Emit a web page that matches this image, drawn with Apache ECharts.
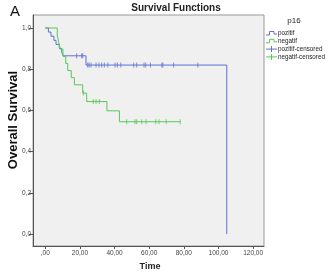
<!DOCTYPE html>
<html>
<head>
<meta charset="utf-8">
<script src="https://cdn.jsdelivr.net/npm/echarts@6/dist/echarts.min.js"></script>
<style>
html, body { margin: 0; padding: 0; background: #ffffff; }
#chart { width: 329px; height: 280px; }
</style>
</head>
<body>
<div id="chart"></div>
<script>
// survival steps: [time, survival after that time]
const pozitifSteps = [[0, 1], [1.8, 0.98], [3.3, 0.96], [5, 0.94], [6.2, 0.92], [8.1, 0.9], [9.5, 0.88], [10.4, 0.865], [23.5, 0.82], [104.8, 0]];
const negatifSteps = [[0, 1], [6.9, 0.966], [7.7, 0.931], [8.7, 0.897], [10.2, 0.862], [11.8, 0.828], [13, 0.793], [15, 0.759], [16.8, 0.724], [21.6, 0.684], [23.9, 0.643], [35.6, 0.598], [42.8, 0.545], [78, 0.545]];

// censored cases
const pozitifCensored = [[18.1, 0.865], [21, 0.865], [21.6, 0.865], [24.5, 0.82], [25.3, 0.82], [26.4, 0.82], [29.3, 0.82], [31, 0.82], [32.6, 0.82], [34.1, 0.82], [36.1, 0.82], [40.3, 0.82], [41.6, 0.82], [43.6, 0.82], [51.1, 0.82], [52.8, 0.82], [57, 0.82], [58, 0.82], [60.7, 0.82], [67.3, 0.82], [67.9, 0.82], [74.1, 0.82], [88.1, 0.82]];
const negatifCensored = [[22, 0.684], [27.7, 0.643], [29.3, 0.643], [31.2, 0.643], [47, 0.545], [51.8, 0.545], [52.8, 0.545], [55.7, 0.545], [58.2, 0.545], [63.8, 0.545], [65.7, 0.545], [69.8, 0.545], [77.9, 0.545]];

const xTicks = [0, 20, 40, 60, 80, 100, 120];
const xTickLabels = [',00', '20,00', '40,00', '60,00', '80,00', '100,00', '120,00'];
const yTicks = [0, 0.2, 0.4, 0.6, 0.8, 1];
const yTickLabels = ['0,0', '0,2', '0,4', '0,6', '0,8', '1,0'];

const blue = '#5d72cf';
const green = '#58c858';
const legendNames = ['pozitif', 'negatif', 'pozitif-censored', 'negatif-censored'];

const chart = echarts.init(document.getElementById('chart'));

function legendIcon(i, y) {
    const color = i % 2 === 0 ? blue : green;
    if (i < 2) {
        return {
            type: 'polyline',
            shape: { points: [[266, y + 1.5], [269.5, y + 1.5], [269.5, y - 2], [274, y - 2], [274, y + 0.5], [277, y + 0.5]] },
            style: { stroke: color, fill: null, lineWidth: 1 },
        };
    }
    return {
        type: 'group',
        children: [
            { type: 'line', shape: { x1: 266, y1: y, x2: 277, y2: y }, style: { stroke: color, lineWidth: 1 } },
            { type: 'line', shape: { x1: 271.5, y1: y - 3, x2: 271.5, y2: y + 3 }, style: { stroke: color, lineWidth: 1 } },
        ],
    };
}

const legendParts = [];
legendNames.forEach((name, i) => {
    const y = 33.5 + i * 7.8;
    legendParts.push(legendIcon(i, y));
    legendParts.push({
        type: 'text',
        x: 278,
        y: y,
        style: { text: name, fontSize: 6.3, fill: '#222', fontFamily: 'Liberation Sans', verticalAlign: 'middle' },
    });
});

const option = {
    animation: false,
    backgroundColor: '#ffffff',
    grid: {
        left: 33,
        top: 15,
        right: 65,
        bottom: 34,
        show: true,
        backgroundColor: '#f0f0f0',
        borderColor: '#999999',
        borderWidth: 1,
    },
    xAxis: {
        type: 'value',
        min: -7.1,
        max: 126.3,
        axisLine: { show: true, onZero: false, lineStyle: { color: '#555', width: 1 } },
        axisTick: { show: true, length: 3, customValues: xTicks, lineStyle: { color: '#555' } },
        axisLabel: {
            customValues: xTicks,
            margin: 4,
            fontSize: 6.5,
            color: '#444',
            fontFamily: 'Liberation Sans',
            formatter: (v) => xTickLabels[xTicks.indexOf(v)],
        },
        splitLine: { show: false },
    },
    yAxis: {
        type: 'value',
        min: -0.058,
        max: 1.063,
        axisLine: { show: true, onZero: false, lineStyle: { color: '#555', width: 1 } },
        axisTick: { show: true, length: 4, customValues: yTicks, lineStyle: { color: '#555' } },
        axisLabel: {
            customValues: yTicks,
            margin: 2,
            fontSize: 6.5,
            color: '#444',
            fontFamily: 'Liberation Sans',
            formatter: (v) => yTickLabels[yTicks.findIndex((t) => Math.abs(t - v) < 1e-6)],
        },
        splitLine: { show: false },
    },
    series: [
        {
            name: 'pozitif',
            type: 'line',
            step: 'end',
            data: pozitifSteps,
            showSymbol: false,
            lineStyle: { color: blue, width: 1 },
            itemStyle: { color: blue },
        },
        {
            name: 'negatif',
            type: 'line',
            step: 'end',
            data: negatifSteps,
            showSymbol: false,
            lineStyle: { color: green, width: 1 },
            itemStyle: { color: green },
        },
        {
            name: 'pozitif-censored',
            type: 'scatter',
            data: pozitifCensored,
            symbol: 'rect',
            symbolSize: [1, 5],
            itemStyle: { color: blue },
        },
        {
            name: 'negatif-censored',
            type: 'scatter',
            data: negatifCensored,
            symbol: 'rect',
            symbolSize: [1, 5],
            itemStyle: { color: green },
        },
    ],
    graphic: [
        {
            type: 'text',
            x: 10,
            y: 4,
            style: { text: 'A', fontSize: 15, fill: '#111', fontFamily: 'Liberation Sans' },
        },
        {
            type: 'text',
            x: 176,
            y: 8,
            style: { text: 'Survival Functions', fontSize: 10, fontWeight: 'bold', fill: '#222', fontFamily: 'Liberation Sans', align: 'center', verticalAlign: 'middle' },
        },
        {
            type: 'text',
            x: 13,
            y: 120,
            rotation: Math.PI / 2,
            style: { text: 'Overall Survival', fontSize: 13, fontWeight: 'bold', fill: '#111', fontFamily: 'Liberation Sans', align: 'center', verticalAlign: 'middle' },
        },
        {
            type: 'text',
            x: 150,
            y: 267,
            style: { text: 'Time', fontSize: 9, fontWeight: 'bold', fill: '#222', fontFamily: 'Liberation Sans', align: 'center', verticalAlign: 'middle' },
        },
        {
            type: 'text',
            x: 294,
            y: 21,
            style: { text: 'p16', fontSize: 8, fill: '#222', fontFamily: 'Liberation Sans', align: 'center', verticalAlign: 'middle' },
        },
    ].concat(legendParts),
};

chart.setOption(option);
</script>
</body>
</html>
